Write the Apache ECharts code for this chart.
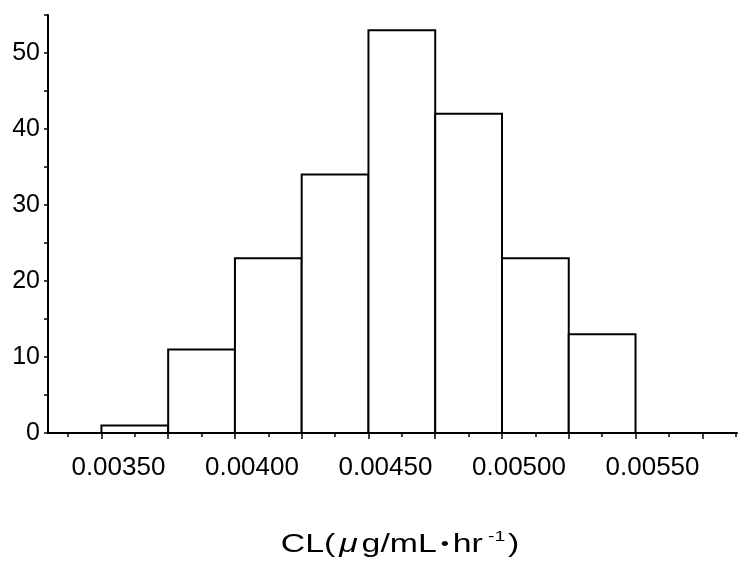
<!DOCTYPE html>
<html>
<head>
<meta charset="utf-8">
<script src="https://cdn.jsdelivr.net/npm/echarts@6/dist/echarts.min.js"></script>
<style>
  html, body { margin: 0; padding: 0; background: #fff; }
  #chartmain { width: 739px; height: 567px; }
</style>
</head>
<body>
<div id="chartmain"></div>
<script>
// bin edges and counts
var binStart = [0.00350, 0.00375, 0.00400, 0.00425, 0.00450, 0.00475, 0.00500, 0.00525];
var binEnd   = [0.00375, 0.00400, 0.00425, 0.00450, 0.00475, 0.00500, 0.00525, 0.00550];
var counts   = [1, 11, 23, 34, 53, 42, 23, 13];
var xLabels  = [0.00350, 0.00400, 0.00450, 0.00500, 0.00550];
var xMajorTicks = [0.00350, 0.00375, 0.00400, 0.00425, 0.00450, 0.00475, 0.00500, 0.00525, 0.00550, 0.00575];
var xMinorTicks = [0.003375, 0.003625, 0.003875, 0.004125, 0.004375, 0.004625, 0.004875, 0.005125, 0.005375, 0.005625, 0.005875];

var font = 'Liberation Sans, Arial, sans-serif';

var histData = [];
for (var i = 0; i < counts.length; i++) {
  histData.push([binStart[i], binEnd[i], counts[i]]);
}

var option = {
  backgroundColor: '#fff',
  animation: false,
  grid: { left: 48, right: 2, top: 15, bottom: 134 },
  // axis title, drawn a bit wider than tall like the scanned original
  graphic: [{
    type: 'text',
    x: 400,
    y: 545,
    scaleX: 1.3,
    style: {
      text: '{a|CL(}{m|μ}{a|g/mL}{d|•}{a|hr}{s|-1}{a|)}',
      align: 'center',
      verticalAlign: 'middle',
      rich: {
        a: { fontSize: 26, lineHeight: 32, fill: '#000', fontFamily: font },
        m: { fontSize: 26, lineHeight: 32, fill: '#000', fontFamily: font, fontStyle: 'italic', padding: [0, 3, 0, 3] },
        d: { fontSize: 18, lineHeight: 32, fill: '#000', fontFamily: font, padding: [0, 3, 0, 3] },
        s: { fontSize: 15, lineHeight: 16, fill: '#000', fontFamily: font, verticalAlign: 'top', padding: [0, 2, 0, 4] }
      }
    }
  }],
  xAxis: [{
    type: 'value',
    min: 0.0033,
    max: 0.00588,
    splitLine: { show: false },
    axisLine: { lineStyle: { color: '#000', width: 2 } },
    axisTick: { show: true, customValues: xMajorTicks, length: 6, lineStyle: { color: '#000', width: 1.5 } },
    axisLabel: {
      customValues: xLabels,
      margin: 22,
      padding: [0, 0, 0, 34],
      color: '#000',
      fontSize: 26,
      fontFamily: font,
      formatter: function (v) { return v.toFixed(5); }
    }
  }, {
    type: 'value',
    position: 'bottom',
    min: 0.0033,
    max: 0.00588,
    splitLine: { show: false },
    axisLine: { show: false },
    axisTick: { show: true, customValues: xMinorTicks, length: 4, lineStyle: { color: '#000', width: 1.5 } },
    axisLabel: { show: false }
  }],
  yAxis: {
    type: 'value',
    min: 0,
    max: 55,
    interval: 5,
    splitLine: { show: false },
    axisLine: { show: true, lineStyle: { color: '#000', width: 2 } },
    axisTick: { show: true, length: 4, lineStyle: { color: '#000', width: 1.5 } },
    axisLabel: {
      margin: 8,
      padding: [0, 0, 6, 0],
      color: '#000',
      fontSize: 25,
      fontFamily: font,
      formatter: function (v) { return (v % 10 === 0) ? String(v) : ''; }
    }
  },
  series: [{
    type: 'custom',
    xAxisIndex: 0,
    renderItem: function (params, api) {
      var p0 = api.coord([api.value(0), api.value(2)]);
      var p1 = api.coord([api.value(1), 0]);
      return {
        type: 'rect',
        shape: { x: p0[0], y: p0[1], width: p1[0] - p0[0], height: p1[1] - p0[1] },
        style: { fill: '#fff', stroke: '#000', lineWidth: 2 }
      };
    },
    encode: { x: [0, 1], y: 2 },
    data: histData
  }]
};

var myChart = echarts.init(document.getElementById('chartmain'));
myChart.setOption(option);
</script>
</body>
</html>
